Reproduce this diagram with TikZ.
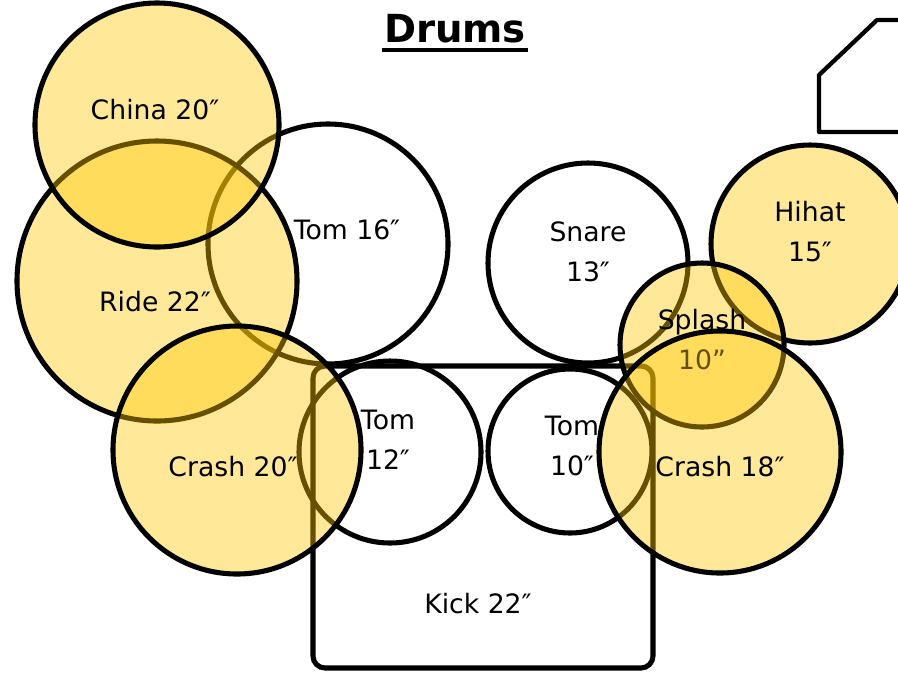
\documentclass[tikz,border=0pt]{standalone}
\usepackage{fontspec}
\setmainfont{DejaVu Sans}
\definecolor{cymbal}{RGB}{255,200,0}
\tikzset{
  drum/.style={circle, draw=black, line width=3.8pt, inner sep=0pt, minimum size=#1},
  cym/.style={drum=#1, fill=cymbal, fill opacity=0.4, text opacity=1},
  lbl/.style={align=center, inner sep=0pt, font=\fontsize{20}{30}\selectfont, text=black},
}
\begin{document}
\begin{tikzpicture}[x=0.75pt, y=-0.75pt]
\useasboundingbox (0,0) rectangle (898,672);
\clip (0,0) rectangle (898,672);

% title
\node[font=\fontsize{29}{32}\selectfont\bfseries, inner sep=0pt] (title) at (455,29) {Drums};
\draw[line width=2.6pt] ([xshift=-1pt]title.south west |- 0,50) -- ([xshift=1pt]title.south east |- 0,50);

% side table outline
\draw[line width=3.2pt, line join=round] (905,20) -- (877,20) -- (819,75) -- (819,132) -- (905,132);

% kick drum
\draw[line width=3.8pt, rounded corners=9pt] (313,366) rectangle (653,668);
\node[lbl] (kickT) at (478,604) {Kick 22″};

% toms and snare
\node[drum=180pt] (tom16) at (328,244) {};
\node[lbl] (tom16T) at (347,230) {Tom 16″};
\node[drum=136.5pt] (tom12) at (390,452) {};
\node[lbl] (tom12T) at (388,440) {Tom\\12″};
\node[drum=123pt] (tom10) at (570,451) {};
\node[lbl] (tom10T) at (572,446) {Tom\\10″};
\node[drum=150pt] (snare) at (588,263) {};
\node[lbl] (snareT) at (588,252) {Snare\\13″};

% cymbals, left side
\node[cym=210pt] (ride) at (157,281) {};
\node[lbl] (rideT) at (155,302) {Ride 22″};
\node[cym=183pt] (china) at (157,125) {};
\node[lbl] (chinaT) at (155,110) {China 20″};
\node[cym=186pt] (crash20) at (237,450) {};
\node[lbl] (crash20T) at (233,467) {Crash 20″};

% cymbals, right side
\node[cym=148.5pt] (hihat) at (810,244) {};
\node[lbl] (hihatT) at (810,232) {Hihat\\15″};
\node[cym=123pt] (splash) at (702,345) {};
\node[lbl] (splashT) at (702,340) {Splash\\10"};
\node[cym=181.5pt] (crash18) at (720,452) {};
\node[lbl] (crash18T) at (720,467) {Crash 18″};
\end{tikzpicture}
\end{document}
